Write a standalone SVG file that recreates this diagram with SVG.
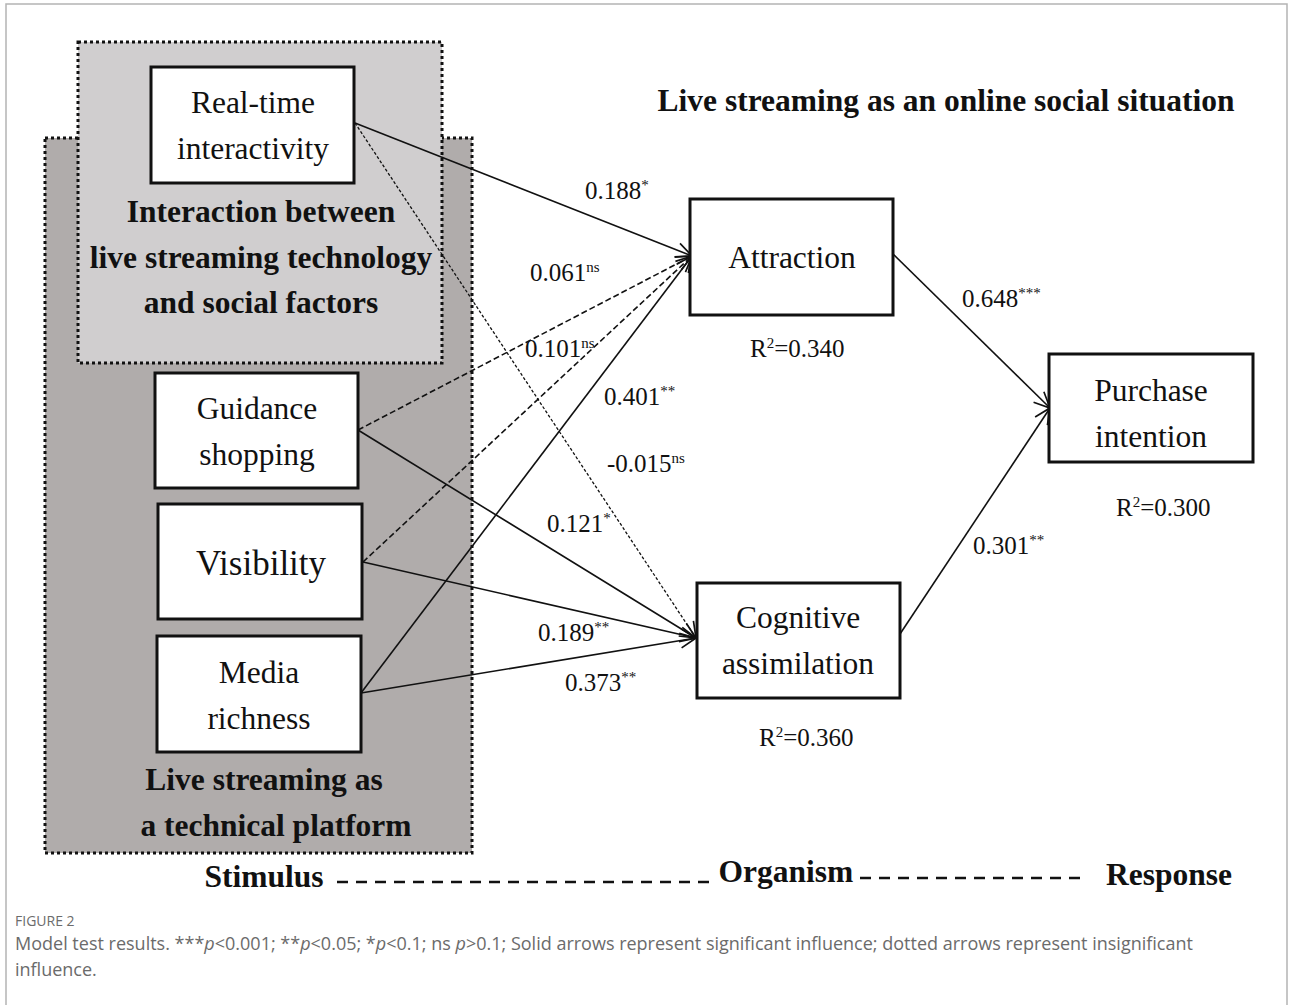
<svg xmlns="http://www.w3.org/2000/svg" width="1292" height="1005" viewBox="0 0 1292 1005">
<style>
.frame{stroke:#b4b4b4;stroke-width:1.5;fill:none}
.zone{stroke:#111;stroke-width:3;stroke-dasharray:3 3}
.node{fill:#fff;stroke:#111;stroke-width:3}
.nt{font-family:"Liberation Serif","Times New Roman",serif;font-size:31.5px;fill:#111;text-anchor:middle}
.bt{font-family:"Liberation Serif","Times New Roman",serif;font-size:31.5px;font-weight:bold;fill:#111;text-anchor:middle}
.lbl{font-family:"Liberation Serif","Times New Roman",serif;font-size:25px;fill:#111}
.sup{font-size:15px}
.edge{stroke:#111;stroke-width:1.6;fill:none;marker-end:url(#arr)}
.dash{stroke-dasharray:6 3}
.dot{stroke-dasharray:3 2;stroke-width:1.3}
.cap{font-family:"Open Sans","Noto Sans",sans-serif;fill:#6b6b6b}
</style>
<defs>
<marker id="arr" markerUnits="userSpaceOnUse" markerWidth="20" markerHeight="20" viewBox="-17 -9 19 18" refX="0" refY="0" orient="auto">
<path d="M-15,-7 L0,0 L-15,7" fill="none" stroke="#111" stroke-width="1.6"/>
</marker>
</defs>
<rect width="1292" height="1005" fill="#fff"/>
<path class="frame" d="M6,1005 V4 H1287 V1005"/>

<g id="zone-platform">
<rect class="zone" x="45" y="138" width="427" height="715" fill="#b0acab"/>
<text class="bt" x="264" y="790">Live streaming as</text>
<text class="bt" x="276" y="836">a technical platform</text>
</g>
<g id="zone-interaction">
<rect class="zone" x="78" y="42" width="364" height="321" fill="#d0cecf"/>
<text class="bt" x="261" y="222">Interaction between</text>
<text class="bt" x="261" y="268">live streaming technology</text>
<text class="bt" x="261" y="313">and social factors</text>
</g>

<text class="bt" x="946" y="111">Live streaming as an online social situation</text>

<g id="connectors">
<line class="edge" x1="355" y1="123" x2="692" y2="256"/>
<line class="edge dot" x1="355" y1="123" x2="696" y2="638"/>
<line class="edge dash" x1="358" y1="430" x2="692" y2="256"/>
<line class="edge dash" x1="363" y1="562" x2="692" y2="256"/>
<line class="edge" x1="361" y1="693" x2="692" y2="256"/>
<line class="edge" x1="358" y1="430" x2="696" y2="638"/>
<line class="edge" x1="363" y1="562" x2="696" y2="638"/>
<line class="edge" x1="361" y1="693" x2="696" y2="638"/>
<line class="edge" x1="893" y1="254" x2="1050" y2="408"/>
<line class="edge" x1="900" y1="634" x2="1050" y2="408"/>
</g>

<g id="node-realtime">
<rect class="node" x="151" y="67" width="203" height="116"/>
<text class="nt" x="253" y="113">Real-time</text>
<text class="nt" x="253" y="159">interactivity</text>
</g>
<g id="node-guidance">
<rect class="node" x="155" y="373" width="203" height="115"/>
<text class="nt" x="257" y="419">Guidance</text>
<text class="nt" x="257" y="465">shopping</text>
</g>
<g id="node-visibility">
<rect class="node" x="158" y="504" width="204" height="115"/>
<text class="nt" x="261" y="575" style="font-size:35px">Visibility</text>
</g>
<g id="node-media">
<rect class="node" x="157" y="636" width="204" height="116"/>
<text class="nt" x="259" y="683">Media</text>
<text class="nt" x="259" y="729">richness</text>
</g>
<g id="node-attraction">
<rect class="node" x="690" y="199" width="203" height="116"/>
<text class="nt" x="792" y="268">Attraction</text>
</g>
<g id="node-cognitive">
<rect class="node" x="697" y="583" width="203" height="115"/>
<text class="nt" x="798" y="628">Cognitive</text>
<text class="nt" x="798" y="674">assimilation</text>
</g>
<g id="node-purchase">
<rect class="node" x="1049" y="354" width="204" height="108"/>
<text class="nt" x="1151" y="401">Purchase</text>
<text class="nt" x="1151" y="447">intention</text>
</g>

<g id="labels">
<text class="lbl" x="585" y="199">0.188<tspan class="sup" dy="-9">*</tspan></text>
<text class="lbl" x="530" y="281">0.061<tspan class="sup" dy="-9">ns</tspan></text>
<text class="lbl" x="525" y="357">0.101<tspan class="sup" dy="-9">ns</tspan></text>
<text class="lbl" x="604" y="405">0.401<tspan class="sup" dy="-9">**</tspan></text>
<text class="lbl" x="607" y="472">-0.015<tspan class="sup" dy="-9">ns</tspan></text>
<text class="lbl" x="547" y="532">0.121<tspan class="sup" dy="-9">*</tspan></text>
<text class="lbl" x="538" y="641">0.189<tspan class="sup" dy="-9">**</tspan></text>
<text class="lbl" x="565" y="691">0.373<tspan class="sup" dy="-9">**</tspan></text>
<text class="lbl" x="962" y="307">0.648<tspan class="sup" dy="-9">***</tspan></text>
<text class="lbl" x="973" y="554">0.301<tspan class="sup" dy="-9">**</tspan></text>
<text class="lbl" x="750" y="357">R<tspan class="sup" dy="-9">2</tspan><tspan dy="9">=0.340</tspan></text>
<text class="lbl" x="1116" y="516">R<tspan class="sup" dy="-9">2</tspan><tspan dy="9">=0.300</tspan></text>
<text class="lbl" x="759" y="746">R<tspan class="sup" dy="-9">2</tspan><tspan dy="9">=0.360</tspan></text>
</g>

<g id="sor">
<text class="bt" x="264" y="887">Stimulus</text>
<text class="bt" x="786" y="882">Organism</text>
<text class="bt" x="1169" y="885">Response</text>
<line x1="337" y1="882" x2="710" y2="882" stroke="#111" stroke-width="2.5" stroke-dasharray="11 8"/>
<line x1="860" y1="878" x2="1085" y2="878" stroke="#111" stroke-width="2.5" stroke-dasharray="11 8"/>
</g>

<text class="cap" x="15" y="926" style="font-size:14px">FIGURE 2</text>
<text class="cap" x="15" y="950" style="font-size:18px">Model test results. ***<tspan font-style="italic">p</tspan>&lt;0.001; **<tspan font-style="italic">p</tspan>&lt;0.05; *<tspan font-style="italic">p</tspan>&lt;0.1; ns <tspan font-style="italic">p</tspan>&gt;0.1; Solid arrows represent significant influence; dotted arrows represent insignificant</text>
<text class="cap" x="15" y="976" style="font-size:18px">influence.</text>
</svg>
